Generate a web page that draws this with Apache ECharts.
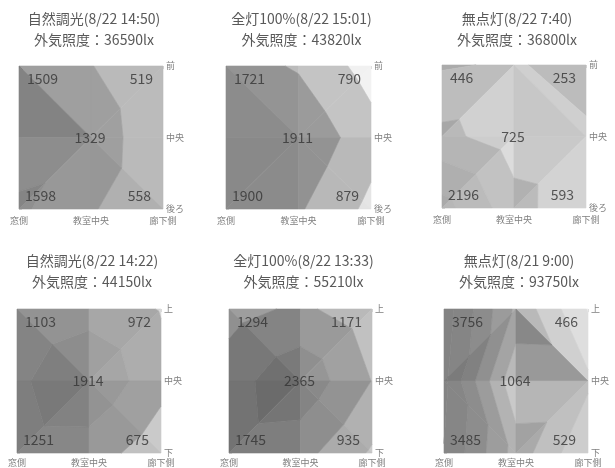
<!DOCTYPE html>
<html>
<head>
<meta charset="utf-8">
<script src="https://cdn.jsdelivr.net/npm/echarts@6/dist/echarts.min.js"></script>
<style>
html, body { margin: 0; padding: 0; background: #ffffff; }
#main { width: 615px; height: 468px; }
</style>
</head>
<body>
<div id="main"></div>
<script>
// Axis tick labels
const colLabels = ['窓側', '教室中央', '廊下側'];
const rowLabelsPlan = ['前', '中央', '後ろ'];
const rowLabelsWall = ['上', '中央', '下'];

// Panel headings
const titles = [
  '自然調光(8/22 14:50)', '全灯100%(8/22 15:01)', '無点灯(8/22 7:40)',
  '自然調光(8/22 14:22)', '全灯100%(8/22 13:33)', '無点灯(8/21 9:00)'
];
const outdoorLux = [36590, 43820, 36800, 44150, 55210, 93750];

// Illuminance grids (lx): rows top → bottom, columns 窓側 → 廊下側
const luxA = [[1509, 1020, 519], [1200, 1329, 590], [1598, 1050, 558]];
const luxB = [[1721, 1450, 790], [1950, 1911, 1200], [1900, 1560, 879]];
const luxC = [[446, 560, 253], [1138, 725, 600], [2196, 1199, 593]];
const luxD = [[1103, 1323, 972], [1403, 1914, 1175], [1251, 1267, 675]];
const luxE = [[1294, 1604, 1171], [1791, 2365, 1488], [1745, 1685, 935]];
const luxF = [[3756, 1900, 466], [3600, 1064, 1100], [3485, 1800, 529]];

// Contour band limits (lx)
const levels = [0, 500, 1000, 1500, 2000, 2500, 3000, 3500, 4000];

// grey level of each contour band, per panel
const bandGrayA = [205, 166, 142, 134, 130, 128, 126, 124];
const bandGrayB = [225, 212, 172, 136, 132, 130, 128, 126];
const bandGrayC = [172, 190, 168, 162, 158, 150, 145, 140];
const bandGrayD = [215, 192, 152, 146, 140, 135, 130, 128];
const bandGrayE = [215, 192, 168, 140, 130, 128, 126, 124];
const bandGrayF = [205, 192, 180, 160, 140, 126, 120, 118];

const panels = [
  { lux: luxA, gray: bandGrayA, rows: rowLabelsPlan, rect: [19, 66, 144, 143] },
  { lux: luxB, gray: bandGrayB, rows: rowLabelsPlan, rect: [226, 66, 145, 143] },
  { lux: luxC, gray: bandGrayC, rows: rowLabelsPlan, rect: [442, 65, 144, 143] },
  { lux: luxD, gray: bandGrayD, rows: rowLabelsWall, rect: [17, 309, 144, 144] },
  { lux: luxE, gray: bandGrayE, rows: rowLabelsWall, rect: [229, 309, 143, 144] },
  { lux: luxF, gray: bandGrayF, rows: rowLabelsWall, rect: [444, 309, 144, 144] }
];

// surface shading: light from the right, slightly from the top
const light = (function () { const v = [0.6, -0.25, 0.76]; const n = Math.hypot(v[0], v[1], v[2]); return v.map(c => c / n); })();
const zScale = 1500;
const shadeK = 0.5;

function clip(poly, side) {
  const out = [];
  for (let i = 0; i < poly.length; i++) {
    const p = poly[i], q = poly[(i + 1) % poly.length];
    const sp = side(p), sq = side(q);
    if (sp >= 0) out.push(p);
    if ((sp >= 0) !== (sq >= 0)) {
      const t = sp / (sp - sq);
      out.push([p[0] + t * (q[0] - p[0]), p[1] + t * (q[1] - p[1]), p[2] + t * (q[2] - p[2])]);
    }
  }
  return out;
}

function facetFactor(tri) {
  const [p, q, r] = tri;
  const ux = q[0] - p[0], uy = q[1] - p[1], uz = (q[2] - p[2]) / zScale;
  const vx = r[0] - p[0], vy = r[1] - p[1], vz = (r[2] - p[2]) / zScale;
  let nx = uy * vz - uz * vy, ny = uz * vx - ux * vz, nz = ux * vy - uy * vx;
  if (nz < 0) { nx = -nx; ny = -ny; nz = -nz; }
  const len = Math.hypot(nx, ny, nz);
  const dot = (nx * light[0] + ny * light[1] + nz * light[2]) / len;
  return 1 + shadeK * (dot - light[2]) / light[2];
}

// split each grid cell into two triangles (along the higher diagonal) and cut them into bands
function buildSurface(g, grays) {
  const node = (i, j) => [i, j, g[j][i]];
  const polys = [];
  for (let j = 0; j < 2; j++) {
    for (let i = 0; i < 2; i++) {
      const a = node(i, j), b = node(i + 1, j), c = node(i, j + 1), d = node(i + 1, j + 1);
      const tris = (a[2] + d[2] >= b[2] + c[2]) ? [[a, b, d], [a, d, c]] : [[a, b, c], [b, d, c]];
      tris.forEach(tri => {
        const f = facetFactor(tri);
        for (let k = 0; k < levels.length - 1; k++) {
          const lo = levels[k], hi = levels[k + 1];
          let poly = clip(tri, p => p[2] - lo);
          if (poly.length < 3) continue;
          poly = clip(poly, p => hi - p[2]);
          if (poly.length < 3) continue;
          const v = Math.max(0, Math.min(255, Math.round(grays[k] * f)));
          polys.push({ pts: poly.map(p => [p[0], p[1]]), color: 'rgb(' + v + ',' + v + ',' + v + ')' });
        }
      });
    }
  }
  return polys;
}

const FONT = '"Noto Sans CJK JP", "Noto Sans", sans-serif';
const grids = [], xAxes = [], yAxes = [], series = [], graphics = [];

panels.forEach((pn, idx) => {
  const [left, top, w, h] = pn.rect;
  grids.push({ left: left, top: top, width: w, height: h, containLabel: false });
  const bottomRow = idx >= 3;
  xAxes.push({
    gridIndex: idx, type: 'value', min: 0, max: 2, interval: 1,
    axisLine: { show: false },
    axisTick: { show: true, length: 3, lineStyle: { color: '#d9d9d9' } },
    splitLine: { show: false },
    axisLabel: { formatter: v => colLabels[v] || '', fontSize: 9, color: '#7f7f7f', fontFamily: FONT, margin: bottomRow ? 5 : 7 }
  });
  yAxes.push({
    gridIndex: idx, type: 'value', min: 0, max: 2, interval: 1, inverse: true, position: 'right',
    axisLine: { show: false },
    axisTick: { show: true, length: 3, lineStyle: { color: '#d9d9d9' } },
    splitLine: { show: false },
    axisLabel: { formatter: v => pn.rows[v] || '', fontSize: 9, color: '#7f7f7f', fontFamily: FONT, margin: 3 }
  });

  const polys = buildSurface(pn.lux, pn.gray);
  series.push({
    type: 'custom', xAxisIndex: idx, yAxisIndex: idx, silent: true,
    data: polys.map(p => p.pts[0]),
    renderItem: (params, api) => {
      const p = polys[params.dataIndex];
      return {
        type: 'polygon',
        shape: { points: p.pts.map(pt => api.coord(pt)) },
        style: { fill: p.color, stroke: p.color, lineWidth: 0.6 }
      };
    },
    z: 1
  });

  // value labels at the four corners and centre
  const g = pn.lux;
  const marks = [
    { x: 0, y: 0, align: 'left', off: [8, 13] },
    { x: 2, y: 0, align: 'right', off: [-10, 13] },
    { x: 1, y: 1, align: 'center', off: [-1, 0] },
    { x: 0, y: 2, align: 'left', off: [6, -13.5] },
    { x: 2, y: 2, align: 'right', off: [-12, -13.5] }
  ];
  series.push({
    type: 'scatter', xAxisIndex: idx, yAxisIndex: idx, silent: true,
    symbolSize: 1, itemStyle: { color: 'rgba(0,0,0,0)' }, z: 5,
    data: marks.map(m => ({
      value: [m.x, m.y, g[m.y][m.x]],
      label: {
        show: true, position: 'inside', offset: m.off, align: m.align, verticalAlign: 'middle',
        formatter: p => String(p.value[2]), fontSize: 14, color: '#333333', fontFamily: FONT
      }
    }))
  });

  const cx = left + w / 2 + 3;
  const ty = bottomRow ? 261 : 19;
  graphics.push({ type: 'text', x: cx, y: ty, style: { text: titles[idx], font: '14px ' + FONT, fill: '#595959', align: 'center', verticalAlign: 'middle' } });
  graphics.push({ type: 'text', x: cx, y: ty + 21, style: { text: '外気照度：' + outdoorLux[idx] + 'lx', font: '14px ' + FONT, fill: '#595959', align: 'center', verticalAlign: 'middle' } });
});

const chart = echarts.init(document.getElementById('main'), null, { renderer: 'canvas' });
chart.setOption({
  animation: false,
  backgroundColor: '#ffffff',
  grid: grids, xAxis: xAxes, yAxis: yAxes, series: series,
  graphic: graphics
});
</script>
</body>
</html>
